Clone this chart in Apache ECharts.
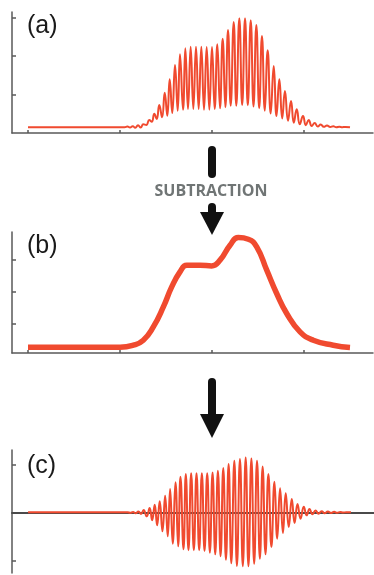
<!DOCTYPE html>
<html><head><meta charset="utf-8">
<script src="https://cdn.jsdelivr.net/npm/echarts@6/dist/echarts.min.js"></script>
<style>html,body{margin:0;padding:0;background:#fff}#c{width:374px;height:575px}</style>
</head><body><div id="c"></div>
<script>
// Fringe extrema positions (alternating peak / trough), optical path units
const fringeX = [1.080,1.109,1.138,1.166,1.196,1.225,1.253,1.286,1.318,1.345,
  1.373,1.399,1.427,1.457,1.486,1.514,1.540,1.568,1.598,1.627,
  1.652,1.685,1.710,1.739,1.768,1.797,1.826,1.855,1.884,1.913,
  1.942,1.971,2.000,2.029,2.058,2.087,2.116,2.145,2.174,2.203,
  2.236,2.264,2.297,2.328,2.359,2.389,2.421,2.451,2.482,2.513,
  2.543,2.574,2.605,2.638,2.671,2.701,2.732,2.763,2.793,2.826,
  2.859,2.889,2.921,2.954,2.989,3.020,3.051,3.084,3.116,3.149,
  3.182,3.215,3.250,3.285,3.318,3.351,3.384,3.416,3.449];
// (a) raw interferogram values at the extrema
const signalA = [0.169,0.140,0.178,0.135,0.200,0.143,0.226,0.208,0.338,0.294,
  0.501,0.364,0.727,0.408,1.047,0.449,1.395,0.519,1.766,0.579,
  2.044,0.605,2.200,0.623,2.242,0.623,2.242,0.623,2.242,0.605,
  2.234,0.605,2.234,0.623,2.304,0.642,2.449,0.668,2.675,0.709,
  2.883,0.709,2.979,0.727,2.979,0.719,2.927,0.688,2.805,0.642,
  2.519,0.579,2.148,0.506,1.740,0.442,1.395,0.377,1.091,0.319,
  0.831,0.268,0.616,0.229,0.442,0.203,0.338,0.182,0.260,0.169,
  0.221,0.161,0.195,0.156,0.174,0.151,0.161,0.150,0.156];
// (c) AC part after subtraction
const signalC = [0.004,-0.010,0.008,-0.020,0.020,-0.035,0.050,-0.083,0.090,-0.167,
  0.160,-0.271,0.229,-0.396,0.346,-0.500,0.485,-0.654,0.625,-0.708,
  0.742,-0.771,0.798,-0.792,0.813,-0.792,0.813,-0.792,0.813,-0.806,
  0.813,-0.842,0.833,-0.875,0.867,-0.917,0.923,-0.988,1.006,-1.062,
  1.075,-1.119,1.110,-1.125,1.146,-1.125,1.125,-1.071,1.075,-0.967,
  0.958,-0.875,0.798,-0.723,0.638,-0.550,0.500,-0.431,0.396,-0.306,
  0.277,-0.223,0.173,-0.133,0.117,-0.063,0.069,-0.040,0.040,-0.030,
  0.025,-0.020,0.018,-0.012,0.010,-0.008,0.006,-0.004,0.002];
// flat lead-in / trailing parts
const leadX = [0, 1.05];
const leadA = [0.15, 0.15];
const leadC = [0, 0];
const trailX = [3.5];
const trailA = [0.15];
const trailC = [0];
// (b) smooth background (DC envelope)
const envX = [0,1,1.145,1.253,1.362,1.471,1.562,1.652,1.725,1.870,1.997,2.087,2.196,2.286,2.395,2.486,2.595,2.703,2.812,2.957,3.101,3.318,3.5];
const envB = [0.25,0.25,0.316,0.474,0.894,1.525,2.157,2.630,2.842,2.842,2.820,3.000,3.473,3.716,3.663,3.420,2.684,1.948,1.317,0.736,0.474,0.316,0.243];
// tick positions
const xTicks = [0,1,2,3];
const yTicksA = [1,2,3];
const yTicksB = [1,2,3];
const yTicksC = [-1,1];

const zip = (xs, ys) => xs.map((x, i) => [x, ys[i]]);
const dataA = zip(leadX, leadA).concat(zip(fringeX, signalA), zip(trailX, trailA));
const dataB = zip(envX, envB);
const dataC = zip(leadX, leadC).concat(zip(fringeX, signalC), zip(trailX, trailC));

const AX = '#595959';
const RED = '#f04a2f';
function xAx(gi, ticks) {
  return { type:'value', gridIndex:gi, min:-0.174, max:3.75,
    axisLine:{show:true, onZero: gi===2, lineStyle:{color: gi===2 ? '#4a4a4a' : AX, width: gi===2 ? 2 : 1.5}},
    axisTick:{show:ticks, inside:true, length:3, customValues:xTicks, lineStyle:{color:AX, width:1.5}},
    axisLabel:{show:false}, splitLine:{show:false} };
}
function yAx(gi, min, max, ticks) {
  return { type:'value', gridIndex:gi, min:min, max:max,
    axisLine:{show:true, onZero:false, lineStyle:{color:AX, width:1.5}},
    axisTick:{show:true, inside:true, length:4, customValues:ticks, lineStyle:{color:AX, width:1.5}},
    axisLabel:{show:false}, splitLine:{show:false} };
}
const chart = echarts.init(document.getElementById('c'), null, {renderer:'canvas'});
const labelFont = '25px "Liberation Sans", Arial, sans-serif';
function lbl(t, y) {
  return { type:'text', x:27, y:y, style:{ text:t, font:labelFont, fill:'#1a1a1a',
    align:'left', verticalAlign:'middle', textAlign:'left', textVerticalAlign:'middle' } };
}
chart.setOption({
  animation:false,
  grid:[
    {left:12, right:1, top:12, height:121},
    {left:12, right:1, top:232, height:121},
    {left:12, right:0, top:450, height:123}
  ],
  xAxis:[ xAx(0,true), xAx(1,true), xAx(2,false) ],
  yAxis:[ yAx(0,0,3.143,yTicksA), yAx(1,0.07,3.89,yTicksB), yAx(2,-1.265,1.30,yTicksC) ],
  series:[
    {type:'line', xAxisIndex:0, yAxisIndex:0, data:dataA, smooth:true, showSymbol:false, symbol:'none',
      lineStyle:{color:RED, width:2}},
    {type:'line', xAxisIndex:1, yAxisIndex:1, data:dataB, smooth:true, showSymbol:false, symbol:'none',
      lineStyle:{color:RED, width:5.5}},
    {type:'line', xAxisIndex:2, yAxisIndex:2, data:dataC, smooth:true, showSymbol:false, symbol:'none',
      lineStyle:{color:RED, width:2}}
  ],
  graphic:[
    lbl('(a)', 26.5), lbl('(b)', 246.5), lbl('(c)', 466.5),
    {type:'line', shape:{x1:212,y1:150,x2:212,y2:174}, style:{stroke:'#111', lineWidth:8, lineCap:'round'}},
    {type:'line', shape:{x1:212,y1:207,x2:212,y2:214}, style:{stroke:'#111', lineWidth:8, lineCap:'round'}},
    {type:'polygon', shape:{points:[[200,212],[224,212],[212,235]]}, style:{fill:'#111'}},
    {type:'line', shape:{x1:212,y1:382,x2:212,y2:415}, style:{stroke:'#111', lineWidth:8, lineCap:'round'}},
    {type:'polygon', shape:{points:[[200,414],[224,414],[212,438]]}, style:{fill:'#111'}},
    {type:'text', x:211, y:191, style:{text:'SUBTRACTION', font:'bold 16px "Open Sans", sans-serif', fill:'#707575',
      align:'center', verticalAlign:'middle', textAlign:'center', textVerticalAlign:'middle'}}
  ]
});
</script></body></html>
